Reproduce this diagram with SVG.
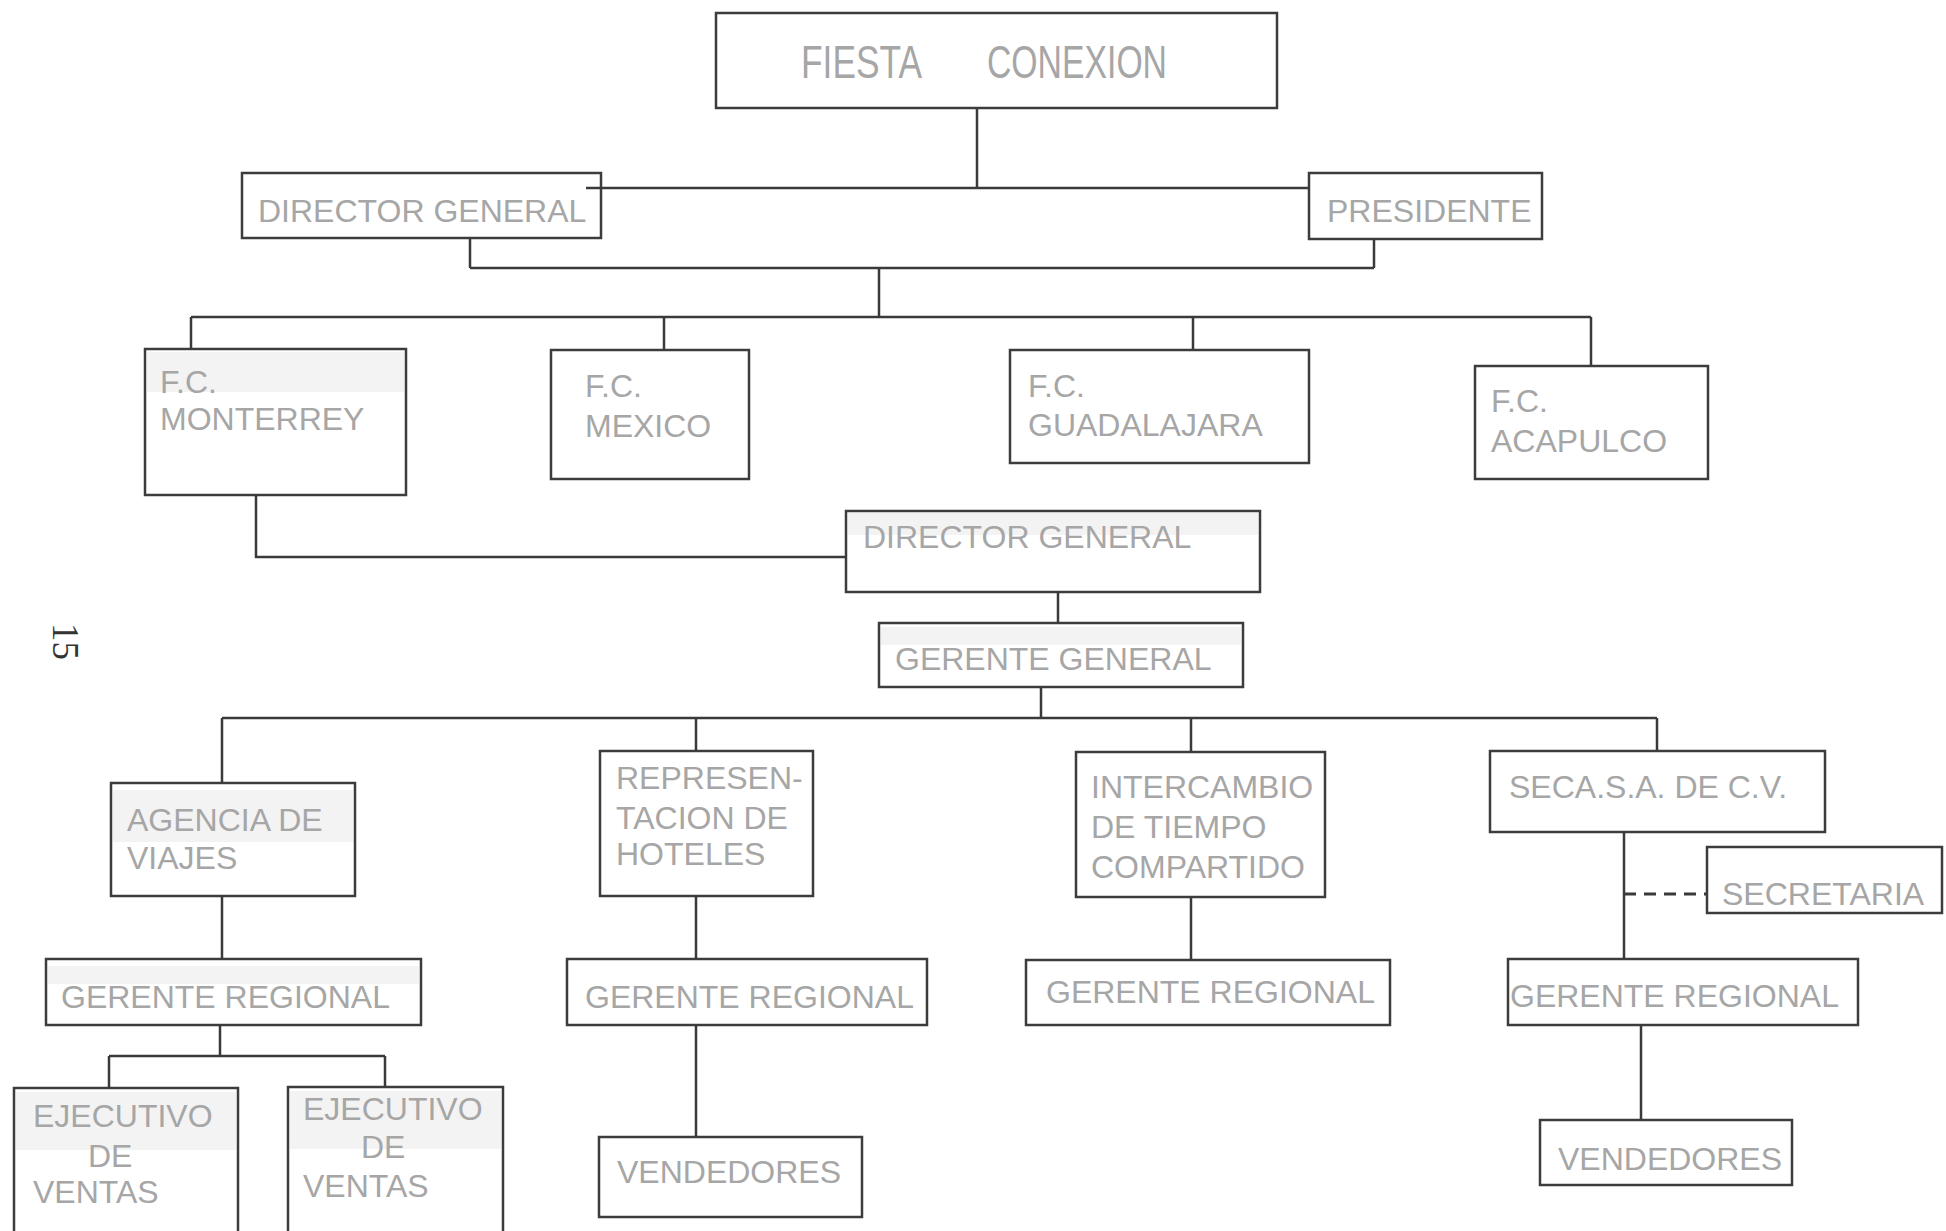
<svg xmlns="http://www.w3.org/2000/svg" width="1946" height="1231" viewBox="0 0 1946 1231">
<style>
.box{fill:#ffffff;stroke:#3c3c3c;stroke-width:2.5}
.shade{fill:#f3f3f3}
.t{font-family:"Liberation Sans",Arial,sans-serif;font-size:32px;fill:#a6a6a6}
.c{fill:none;stroke:#3a3a3a;stroke-width:2.5}
.dash{fill:none;stroke:#3a3a3a;stroke-width:3;stroke-dasharray:12 8}
.pg{font-family:"Liberation Serif","Times New Roman",serif;font-size:37px;fill:#333333}
</style>
<rect width="1946" height="1231" fill="#ffffff"/>
<g id="nodes">
<g id="fiesta"><rect class="box" x="716" y="13" width="561" height="95"/>
<text class="t" x="801" y="78" style="font-size:46px" textLength="121" lengthAdjust="spacingAndGlyphs">FIESTA</text>
<text class="t" x="987" y="78" style="font-size:46px" textLength="180" lengthAdjust="spacingAndGlyphs">CONEXION</text></g>
<g id="director1"><rect class="box" x="242" y="173" width="359" height="65"/><text class="t" x="258" y="222">DIRECTOR GENERAL</text></g>
<g id="presidente"><rect class="box" x="1309" y="173" width="233" height="66"/><text class="t" x="1327" y="222">PRESIDENTE</text></g>
<g id="monterrey"><rect class="box" x="145" y="349" width="261" height="146"/><rect class="shade" x="147" y="352" width="257" height="40"/>
<text class="t" x="160" y="393">F.C.</text><text class="t" x="160" y="430">MONTERREY</text></g>
<g id="mexico"><rect class="box" x="551" y="350" width="198" height="129"/>
<text class="t" x="585" y="397">F.C.</text><text class="t" x="585" y="437">MEXICO</text></g>
<g id="guadalajara"><rect class="box" x="1010" y="350" width="299" height="113"/>
<text class="t" x="1028" y="397">F.C.</text><text class="t" x="1028" y="436">GUADALAJARA</text></g>
<g id="acapulco"><rect class="box" x="1475" y="366" width="233" height="113"/>
<text class="t" x="1491" y="412">F.C.</text><text class="t" x="1491" y="452">ACAPULCO</text></g>
<g id="director2"><rect class="box" x="846" y="511" width="414" height="81"/><rect class="shade" x="848" y="513" width="410" height="22"/>
<text class="t" x="863" y="548">DIRECTOR GENERAL</text></g>
<g id="gerente-general"><rect class="box" x="879" y="623" width="364" height="64"/><rect class="shade" x="881" y="627" width="360" height="18"/>
<text class="t" x="895" y="670">GERENTE GENERAL</text></g>
<g id="agencia"><rect class="box" x="111" y="783" width="244" height="113"/><rect class="shade" x="113" y="790" width="240" height="52"/>
<text class="t" x="127" y="831">AGENCIA DE</text><text class="t" x="127" y="869">VIAJES</text></g>
<g id="representacion"><rect class="box" x="600" y="751" width="213" height="145"/>
<text class="t" x="616" y="789">REPRESEN-</text><text class="t" x="616" y="829">TACION DE</text><text class="t" x="616" y="865">HOTELES</text></g>
<g id="intercambio"><rect class="box" x="1076" y="752" width="249" height="145"/>
<text class="t" x="1091" y="798">INTERCAMBIO</text><text class="t" x="1091" y="838">DE TIEMPO</text><text class="t" x="1091" y="878">COMPARTIDO</text></g>
<g id="seca"><rect class="box" x="1490" y="751" width="335" height="81"/><text class="t" x="1509" y="798">SECA.S.A. DE C.V.</text></g>
<g id="secretaria"><rect class="box" x="1707" y="847" width="235" height="66"/><text class="t" x="1722" y="905">SECRETARIA</text></g>
<g id="gerente-regional-1"><rect class="box" x="46" y="959" width="375" height="66"/><rect class="shade" x="48" y="966" width="371" height="18"/>
<text class="t" x="61" y="1008">GERENTE REGIONAL</text></g>
<g id="gerente-regional-2"><rect class="box" x="567" y="959" width="360" height="66"/><text class="t" x="585" y="1008">GERENTE REGIONAL</text></g>
<g id="gerente-regional-3"><rect class="box" x="1026" y="960" width="364" height="65"/><text class="t" x="1046" y="1003">GERENTE REGIONAL</text></g>
<g id="gerente-regional-4"><rect class="box" x="1508" y="959" width="350" height="66"/><text class="t" x="1510" y="1007">GERENTE REGIONAL</text></g>
<g id="ejecutivo-1"><rect class="box" x="14" y="1088" width="224" height="160"/><rect class="shade" x="16" y="1092" width="220" height="58"/>
<text class="t" x="33" y="1127">EJECUTIVO</text><text class="t" x="88" y="1167">DE</text><text class="t" x="33" y="1203">VENTAS</text></g>
<g id="ejecutivo-2"><rect class="box" x="288" y="1087" width="215" height="160"/><rect class="shade" x="290" y="1091" width="211" height="58"/>
<text class="t" x="303" y="1120">EJECUTIVO</text><text class="t" x="361" y="1158">DE</text><text class="t" x="303" y="1197">VENTAS</text></g>
<g id="vendedores-1"><rect class="box" x="599" y="1137" width="263" height="80"/><text class="t" x="617" y="1183">VENDEDORES</text></g>
<g id="vendedores-2"><rect class="box" x="1540" y="1120" width="252" height="65"/><text class="t" x="1558" y="1170">VENDEDORES</text></g>
</g>
<g id="connectors">
<path class="c" d="M977,108 V188 M586,188 H1309"/>
<path class="c" d="M470,238 V268 M1374,239 V268 M470,268 H1374"/>
<path class="c" d="M879,268 V317 M191,317 H1591 M191,317 V349 M664,317 V350 M1193,317 V350 M1591,317 V366"/>
<path class="c" d="M256,495 V557 H846"/>
<path class="c" d="M1058,592 V623 M1041,687 V718 M222,718 H1657"/>
<path class="c" d="M222,718 V783 M696,718 V751 M1191,718 V752 M1657,718 V751"/>
<path class="c" d="M222,896 V959 M696,896 V959 M1191,897 V960 M1624,832 V959"/>
<path class="dash" d="M1624,894 H1707"/>
<path class="c" d="M220,1025 V1056 M109,1056 H385 M109,1056 V1088 M385,1056 V1087"/>
<path class="c" d="M696,1025 V1137 M1641,1025 V1120"/>
</g>
<text class="pg" transform="translate(53,623) rotate(90)">15</text>
</svg>
